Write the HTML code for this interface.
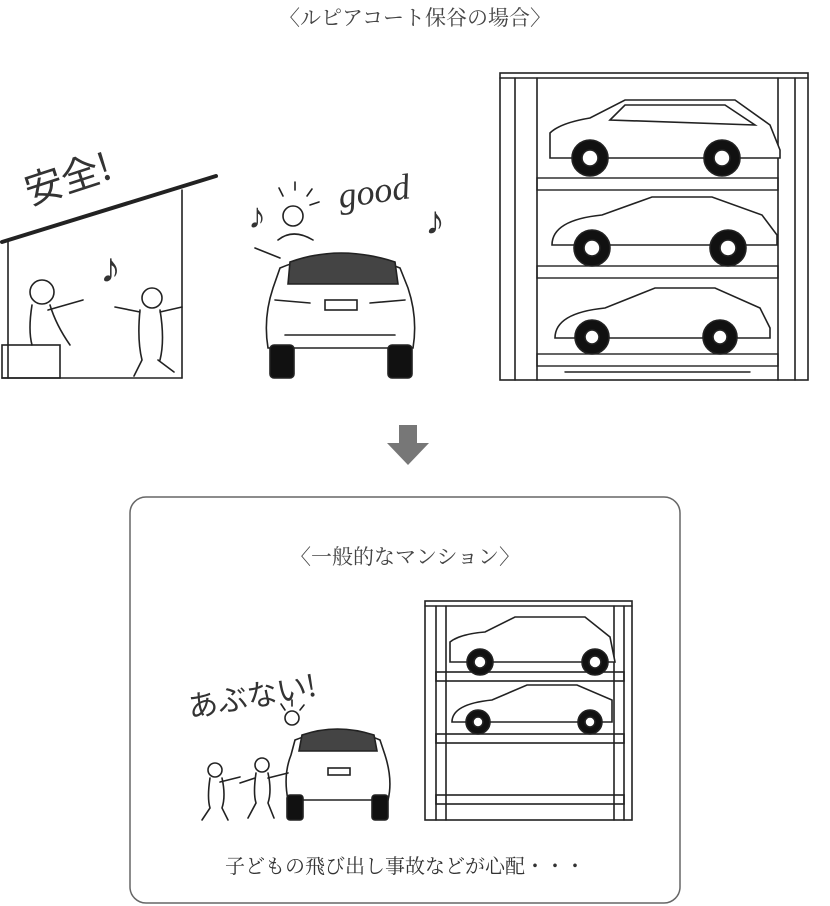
<!DOCTYPE html>
<html><head><meta charset="utf-8"><style>
body{margin:0;background:#fff;width:830px;height:906px;overflow:hidden;position:relative;font-family:"Liberation Serif","Noto Serif CJK SC",serif;color:#333}
.t{position:absolute;white-space:nowrap}
</style></head><body>
<div class="t" style="left:0;width:830px;text-align:center;top:2px;font-size:21px;color:#444">〈ルピアコート保谷の場合〉</div>
<svg width="830" height="906" style="position:absolute;left:0;top:0" fill="none" stroke="#222" stroke-width="1.6" stroke-linecap="round">
<!-- left house scene -->
<line x1="2" y1="242" x2="216" y2="176" stroke-width="4"/>
<line x1="182" y1="190" x2="182" y2="378"/>
<line x1="2" y1="378" x2="182" y2="378"/>
<line x1="8" y1="240" x2="8" y2="378"/>
<rect x="2" y="345" width="58" height="33"/>
<text x="30" y="205" transform="rotate(-18 30 205)" font-size="38" fill="#333" stroke="none" font-family="Noto Sans CJK JP,sans-serif">安全!</text>
<text x="100" y="282" font-size="42" fill="#333" stroke="none">♪</text>
<circle cx="42" cy="292" r="12"/><path d="M32 305 q-4 25 0 40 M50 305 q6 20 20 40 M48 310 l35 -10"/>
<circle cx="152" cy="298" r="10"/><path d="M140 310 q-3 30 2 50 M160 310 q5 30 0 50 M140 312 l-25 -5 M160 312 l22 -5 M142 360 l-8 16 M158 360 l16 12"/>
<!-- good scene -->
<text x="248" y="228" font-size="36" fill="#333" stroke="none">♪</text>
<text x="425" y="234" font-size="40" fill="#333" stroke="none">♪</text>
<text x="340" y="208" transform="rotate(-8 340 208)" font-size="36" fill="#333" stroke="none" font-family="Liberation Serif,serif" font-style="italic">good</text>
<path d="M283 196 l-4 -8 M295 190 l0 -8 M307 196 l5 -7 M310 205 l9 -3"/>
<circle cx="293" cy="216" r="10"/><path d="M278 240 q15 -12 35 0 M255 248 l25 10"/>
<!-- rear car top -->
<g>
<path d="M280 268 q60 -25 120 0 l8 20 q10 30 5 60 l-145 0 q-5 -30 5 -60 z" fill="#fff"/>
<path d="M290 262 q50 -18 105 0 l3 22 l-110 0 z" fill="#444"/>
<rect x="270" y="345" width="24" height="33" rx="4" fill="#111"/><rect x="388" y="345" width="24" height="33" rx="4" fill="#111"/>
<rect x="325" y="300" width="32" height="10"/><path d="M275 300 l35 3 M405 300 l-35 3 M285 335 l110 0"/>
</g>
<!-- right parking -->
<rect x="500" y="73" width="308" height="307"/>
<line x1="500" y1="78" x2="808" y2="78"/>
<line x1="515" y1="78" x2="515" y2="380"/><line x1="537" y1="78" x2="537" y2="380"/>
<line x1="778" y1="78" x2="778" y2="380"/><line x1="795" y1="78" x2="795" y2="380"/>
<g stroke-width="1.4">
<rect x="537" y="178" width="241" height="12"/><rect x="537" y="266" width="241" height="12"/><rect x="537" y="354" width="241" height="12"/>
<line x1="565" y1="372" x2="750" y2="372"/>
</g>
<g id="c1"><path d="M550 158 l0 -25 q10 -10 40 -15 l35 -18 l110 0 l35 25 l10 25 l0 8 z" fill="#fff"/>
<path d="M610 120 l15 -15 l100 0 l30 20 z"/>
<circle cx="590" cy="158" r="18" fill="#111"/><circle cx="590" cy="158" r="8" fill="#fff"/>
<circle cx="722" cy="158" r="18" fill="#111"/><circle cx="722" cy="158" r="8" fill="#fff"/></g>
<path d="M552 245 q0 -25 50 -30 l50 -18 l60 0 l50 18 l15 20 l0 10 z" fill="#fff"/>
<circle cx="592" cy="248" r="18" fill="#111"/><circle cx="592" cy="248" r="8" fill="#fff"/>
<circle cx="728" cy="248" r="18" fill="#111"/><circle cx="728" cy="248" r="8" fill="#fff"/>
<path d="M555 338 q0 -25 50 -30 l50 -20 l60 0 l45 20 l10 20 l0 10 z" fill="#fff"/>
<circle cx="592" cy="337" r="17" fill="#111"/><circle cx="592" cy="337" r="7" fill="#fff"/>
<circle cx="720" cy="337" r="17" fill="#111"/><circle cx="720" cy="337" r="7" fill="#fff"/>
<!-- arrow -->
<path d="M399 425 h18 v18 h12 l-21 22 l-21 -22 h12 z" fill="#777" stroke="none"/>
<!-- box -->
<rect x="130" y="497" width="550" height="406" rx="16" stroke="#666" stroke-width="1.5"/>
<!-- bottom parking -->
<rect x="425" y="601" width="207" height="219"/>
<line x1="425" y1="606" x2="632" y2="606"/>
<line x1="436" y1="606" x2="436" y2="820"/><line x1="446" y1="606" x2="446" y2="820"/>
<line x1="614" y1="606" x2="614" y2="820"/><line x1="624" y1="606" x2="624" y2="820"/>
<rect x="436" y="672" width="188" height="9"/><rect x="436" y="734" width="188" height="9"/><rect x="436" y="795" width="188" height="9"/>
<path d="M450 662 l0 -20 q10 -8 35 -10 l30 -15 l70 0 l25 20 l5 25 z" fill="#fff"/>
<circle cx="480" cy="662" r="13" fill="#111"/><circle cx="480" cy="662" r="6" fill="#fff"/>
<circle cx="595" cy="662" r="13" fill="#111"/><circle cx="595" cy="662" r="6" fill="#fff"/>
<path d="M452 722 q0 -18 40 -22 l35 -15 l50 0 l35 15 l0 22 z" fill="#fff"/>
<circle cx="478" cy="722" r="12" fill="#111"/><circle cx="478" cy="722" r="5" fill="#fff"/>
<circle cx="590" cy="722" r="12" fill="#111"/><circle cx="590" cy="722" r="5" fill="#fff"/>
<!-- bottom car rear -->
<path d="M295 740 q45 -18 85 0 l5 15 q8 25 3 45 l-100 0 q-5 -25 3 -45 z" fill="#fff"/>
<path d="M302 735 q35 -12 72 0 l3 16 l-78 0 z" fill="#444"/>
<rect x="287" y="795" width="16" height="25" rx="3" fill="#111"/><rect x="372" y="795" width="16" height="25" rx="3" fill="#111"/>
<rect x="328" y="768" width="22" height="7"/>
<circle cx="292" cy="718" r="7"/><path d="M285 710 l-4 -6 M292 706 l0 -6 M300 710 l4 -5"/>
<circle cx="215" cy="770" r="7"/><path d="M210 778 q-3 20 0 30 l-8 12 M222 778 q4 18 0 30 l6 12 M220 782 l20 -5"/>
<circle cx="262" cy="765" r="7"/><path d="M256 773 q-3 20 0 30 l-8 15 M268 773 q4 18 0 30 l6 15 M255 778 l-15 5 M268 778 l20 -5"/>
<text x="190" y="718" transform="rotate(-10 190 718)" font-size="30" fill="#333" stroke="none" font-family="Noto Sans CJK JP,sans-serif">あぶない!</text>
</svg>
<div class="t" style="left:130px;width:550px;text-align:center;top:541px;font-size:21px;color:#444">〈一般的なマンション〉</div>
<div class="t" style="left:130px;width:550px;text-align:center;top:850px;font-size:20px;color:#333">子どもの飛び出し事故などが心配・・・</div>
</body></html>
